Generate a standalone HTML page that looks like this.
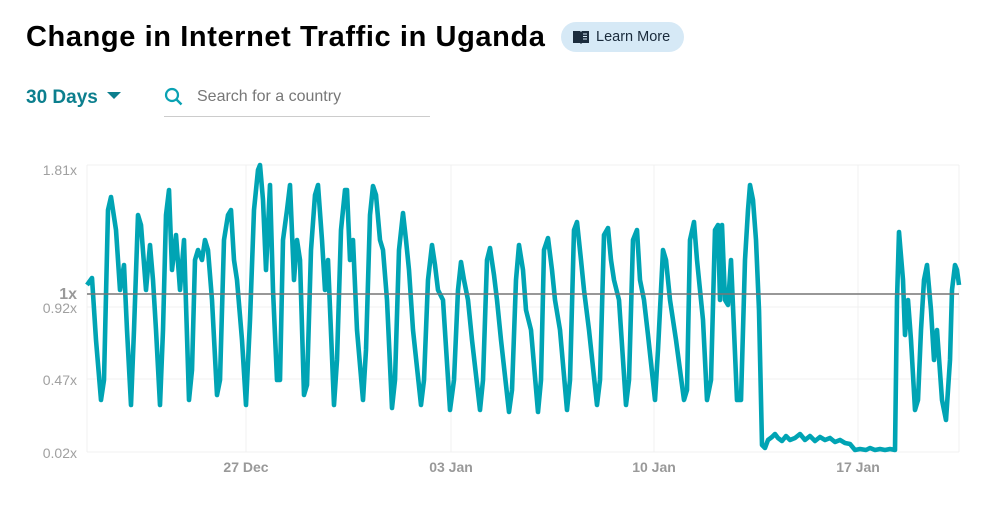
<!DOCTYPE html>
<html><head><meta charset="utf-8"><style>
body{margin:0;width:989px;height:521px;background:#fff;font-family:"Liberation Sans",sans-serif;overflow:hidden;position:relative}
.t{position:absolute;left:26px;top:21px;font-size:29px;font-weight:bold;color:#000;letter-spacing:0.6px}
.lm{position:absolute;left:561px;top:22px;width:123px;height:30px;background:#d6e9f6;border-radius:15px;font-size:14.5px;color:#1a2b3c}
.lm span{position:absolute;left:35px;top:7px}
.d{position:absolute;left:26px;top:87px;font-size:19px;font-weight:bold;color:#0c7f8e}
.s{position:absolute;left:197px;top:88px;font-size:16px;color:#777}
.u{position:absolute;left:164px;top:116px;width:266px;height:1px;background:#ccc}
</style></head><body>
<div class="t">Change in Internet Traffic in Uganda</div>
<div class="lm"><svg style="position:absolute;left:11px;top:8px" width="19" height="14"><path d="M1 1h7l1 1 1-1h7v12h-7l-1 1-1-1H1z" fill="#1b2c3d"/><path d="M11 4h4M11 6.5h4M11 9h4" stroke="#d6e9f6" stroke-width="1"/></svg><span>Learn More</span></div>
<div class="d">30 Days <span style="display:inline-block;width:0;height:0;border-left:7px solid transparent;border-right:7px solid transparent;border-top:7px solid #0c7f8e;vertical-align:4px;margin-left:4px"></span></div>
<svg style="position:absolute;left:164px;top:87px" width="20" height="20"><circle cx="8" cy="8" r="6" fill="none" stroke="#0aa2b3" stroke-width="2.2"/><path d="M12.5 12.5l5 5" stroke="#0aa2b3" stroke-width="2.4"/></svg>
<div class="s">Search for a country</div>
<div class="u"></div>
<svg style="position:absolute;left:0;top:0" width="989" height="521">
<g stroke="#f0f0f0" stroke-width="1">
<line x1="87" y1="165" x2="959" y2="165"/><line x1="87" y1="307" x2="959" y2="307"/><line x1="87" y1="379" x2="959" y2="379"/><line x1="87" y1="452" x2="959" y2="452"/>
<line x1="87" y1="165" x2="87" y2="452"/><line x1="246" y1="165" x2="246" y2="452"/><line x1="451" y1="165" x2="451" y2="452"/><line x1="654" y1="165" x2="654" y2="452"/><line x1="858" y1="165" x2="858" y2="452"/><line x1="959" y1="165" x2="959" y2="452"/>
</g>
<g font-family="Liberation Sans,sans-serif" font-size="14" fill="#a0a0a0" text-anchor="end">
<text x="77" y="175">1.81x</text><text x="77" y="313">0.92x</text><text x="77" y="385">0.47x</text><text x="77" y="458">0.02x</text>
<text x="77" y="299" font-weight="bold" font-size="16" fill="#999">1x</text>
</g>
<g font-family="Liberation Sans,sans-serif" font-size="14" fill="#999" font-weight="bold" text-anchor="middle">
<text x="246" y="472">27 Dec</text><text x="451" y="472">03 Jan</text><text x="654" y="472">10 Jan</text><text x="858" y="472">17 Jan</text>
</g>
<polyline fill="none" stroke="#00a4b4" stroke-width="4.6" stroke-linejoin="round" points="87,285 92,278 96,340 101,400 104,380 108,210 111,197 116,230 120,290 124,265 127,330 131,405 134,330 138,215 141,225 146,290 150,245 153,280 156,330 160,405 163,330 166,215 169,190 172,270 176,235 180,290 184,240 189,400 192,370 195,260 198,250 202,260 205,240 208,250 212,300 217,395 220,380 224,240 228,215 231,210 234,260 237,280 242,340 246,405 250,320 254,210 258,170 260,165 263,200 266,270 270,185 273,290 277,380 280,380 283,240 287,210 290,185 294,280 297,240 300,260 304,395 307,385 311,250 315,195 318,185 322,240 325,290 328,260 334,405 337,360 341,230 345,190 347,190 350,260 353,240 357,330 363,400 366,350 370,215 373,186 376,195 380,240 383,250 387,300 392,408 395,380 399,250 403,213 406,240 409,270 413,330 421,405 424,380 428,280 432,245 435,265 438,290 443,300 450,410 454,380 458,290 461,262 464,280 468,300 472,340 480,410 483,380 487,260 490,248 494,275 497,300 501,340 509,412 512,390 516,280 519,245 523,270 526,310 531,330 538,412 541,380 544,250 548,238 552,270 555,300 560,330 567,410 570,380 574,230 577,222 581,260 584,290 589,330 597,405 600,380 604,235 608,228 611,260 614,280 619,300 626,405 629,380 633,240 637,230 640,280 644,300 648,335 655,400 658,350 663,250 666,260 670,300 673,320 676,340 684,400 687,390 690,240 694,222 697,260 700,290 703,320 707,400 711,380 715,230 718,225 720,300 722,225 725,300 728,305 731,260 734,330 737,400 741,400 745,260 748,210 750,185 753,200 756,240 759,310 762,445 765,448 768,440 772,437 775,434 778,438 782,441 786,436 790,440 795,438 800,434 805,440 810,436 815,441 820,437 825,440 830,438 835,442 840,440 845,443 850,444 855,450 860,449 866,450 870,448 875,450 880,449 885,450 890,449 895,450 897,300 899,232 903,280 905,335 908,300 911,340 915,410 918,400 921,330 924,280 927,265 931,310 934,360 937,330 942,400 946,420 950,360 952,290 955,265 957,270 959,285"/>
<line x1="87" y1="294" x2="959" y2="294" stroke="#777" stroke-width="1.5"/>
</svg>
</body></html>
